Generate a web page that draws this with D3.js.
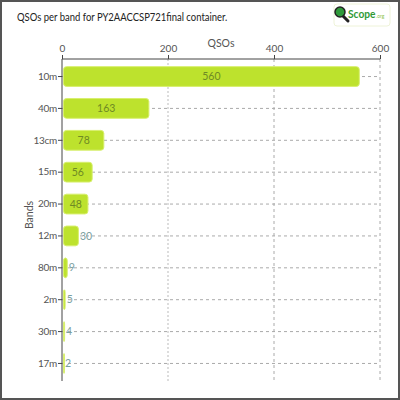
<!DOCTYPE html>
<html><head><meta charset="utf-8">
<script src="https://cdn.jsdelivr.net/npm/d3@7"></script>
<style>body{margin:0;background:#fff}svg{display:block}</style>
</head><body>
<svg id="c" width="400" height="400"></svg>
<script>
const bands = ["10m","40m","13cm","15m","20m","12m","80m","2m","30m","17m"];
const qsos = [560,163,78,56,48,30,9,5,4,2];
const xTicks = [0,200,400,600];
const title = "QSOs per band for PY2AACCSP721final container.";

const svg = d3.select("#c");
const font = "Lato, 'Open Sans', sans-serif";
svg.append("rect").attr("x",1).attr("y",1).attr("width",398).attr("height",398)
  .attr("fill","#fff").attr("stroke","#555").attr("stroke-width",2);

svg.append("text").attr("transform","translate(17,21) scale(0.79,1)").text(title)
  .attr("font-family",font).attr("font-size",12).attr("fill","#222");

// logo
const lg = svg.append("g");
lg.append("rect").attr("x",334).attr("y",4).attr("width",56).attr("height",22).attr("rx",3)
  .attr("fill","#fff").attr("stroke","#eef3d8");
lg.append("line").attr("x1",341).attr("y1",14).attr("x2",348).attr("y2",21).attr("stroke","#222").attr("stroke-width",3).attr("stroke-linecap","round");
lg.append("circle").attr("cx",340).attr("cy",12).attr("r",5).attr("fill","#2e9a3a").attr("stroke","#222").attr("stroke-width",1.5);
lg.append("text").attr("transform","translate(348,18) scale(0.85,1)").text("Scope").attr("font-family",font).attr("font-weight","bold")
  .attr("font-size",12).attr("fill","#2f9a35");
lg.append("text").attr("x",376).attr("y",18).text(".org").attr("font-family",font)
  .attr("font-size",5).attr("fill","#8bc34a");

const m = {l:62, r:380, t:59, b:381};
const x = d3.scaleLinear().domain([0,600]).range([m.l, m.r]);
const y = d3.scaleBand().domain(bands).range([m.t, m.b]).paddingInner(0.38).paddingOuter(0.24);

// grid
const g = svg.append("g");
g.selectAll("line.h").data(bands).join("line")
  .attr("x1",m.l).attr("x2",m.r)
  .attr("y1",d=>y(d)+y.bandwidth()/2).attr("y2",d=>y(d)+y.bandwidth()/2)
  .attr("stroke","#aaa").attr("stroke-dasharray","3,3").attr("stroke-width",1);
g.selectAll("line.v").data(xTicks.slice(1)).join("line")
  .attr("x1",d=>x(d)).attr("x2",d=>x(d)).attr("y1",m.t).attr("y2",m.b)
  .attr("stroke",(d,i)=>i==0?"#ddd":"#aaa")
  .attr("stroke-width",(d,i)=>i==0?2:1)
  .attr("stroke-dasharray",(d,i)=>i==0?"2,2":"3,3");

// bars
svg.selectAll("rect.bar").data(bands).join("rect")
  .attr("x",x(0)+1.5).attr("y",d=>y(d))
  .attr("width",(d,i)=>Math.max(1, x(qsos[i])-x(0)-1))
  .attr("height",y.bandwidth()).attr("rx",3)
  .attr("fill","#bde22d").attr("stroke","#d8ef6e").attr("stroke-width",1);

// labels
svg.selectAll("text.v").data(bands).join("text")
  .each(function(d,i){
    const w = x(qsos[i])-x(0);
    const t = d3.select(this).text(qsos[i]).attr("font-family",font).attr("font-size",10.5)
      .attr("y",y(d)+y.bandwidth()/2).attr("dy","0.35em");
    if (w > 20) t.attr("x",x(0)+w/2+1).attr("text-anchor","middle").attr("fill","#6f8a24");
    else t.attr("x",x(qsos[i])+2).attr("text-anchor","start").attr("fill","#7aa0a0");
  });

// axes
const xa = svg.append("g").attr("transform",`translate(0,${m.t})`).call(d3.axisTop(x).tickValues(xTicks).tickSize(4).tickSizeOuter(0));
const ya = svg.append("g").attr("transform",`translate(${m.l},0)`).call(d3.axisLeft(y).tickSize(4).tickPadding(1).tickSizeOuter(0));
[xa,ya].forEach(a=>{
  a.select(".domain").attr("stroke","#444");
  a.selectAll(".tick line").attr("stroke","#444");
  a.selectAll("text").attr("font-family",font).attr("font-size",10).attr("fill","#555");
});
ya.selectAll(".tick text").attr("letter-spacing","-0.3");
xa.select(".domain").attr("d",`M${m.l},0H${m.r}`);
ya.select(".domain").attr("d",`M0,${m.t}V${m.b}`);

svg.append("text").attr("x",221).attr("y",47).attr("text-anchor","middle").text("QSOs")
  .attr("font-family",font).attr("font-size",10.5).attr("fill","#555");
svg.append("text").attr("transform","translate(33,215) rotate(-90)").attr("text-anchor","middle").text("Bands")
  .attr("font-family",font).attr("font-size",10.5).attr("fill","#555");
</script>
</body></html>
